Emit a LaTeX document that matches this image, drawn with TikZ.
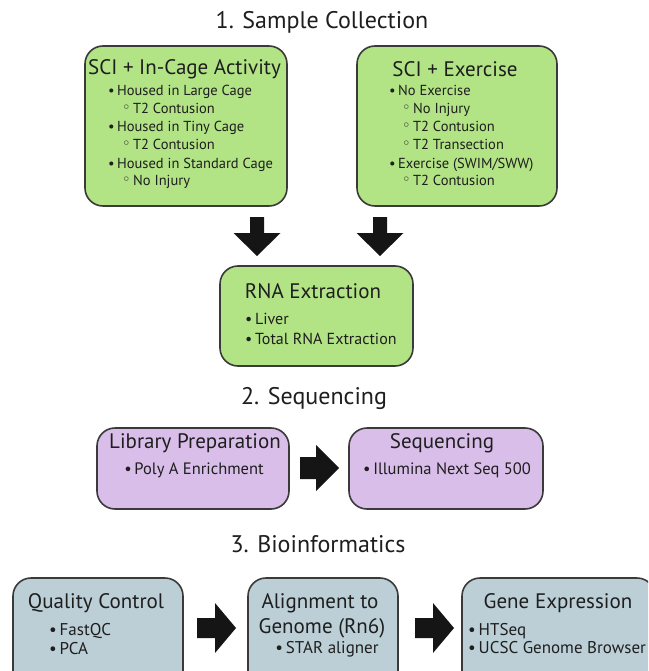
\documentclass[tikz,border=0pt]{standalone}
\usepackage{fontspec}
\setmainfont{PT Sans}
\newfontfamily\symfont{DejaVu Sans}
\definecolor{gfill}{HTML}{B2E384}
\definecolor{pfill}{HTML}{D9BEEA}
\definecolor{bfill}{HTML}{BCCFD7}
\definecolor{bline}{HTML}{3A3A3A}
\definecolor{arr}{HTML}{151515}
\definecolor{txt}{HTML}{1E1E1E}
\newcommand{\sbul}{{\symfont\raisebox{1pt}{◦}}\,}
\newcommand{\mbul}{•\,}
\newcommand{\dnarr}[1]{\fill[arr] (#1-7,217) -- (#1+7,217) -- (#1+7,233) -- (#1+23.5,233) -- (#1,256) -- (#1-23.5,233) -- (#1-7,233) -- cycle;}
\begin{document}
\begin{tikzpicture}[x=1pt,y=-1pt,
  box/.style={draw=bline,line width=1.6pt,rounded corners=18pt,inner sep=0pt},
  sectitle/.style={font=\fontsize{24}{28}\selectfont,text=txt,inner sep=0pt},
  boxtitle/.style={font=\fontsize{21}{24}\selectfont,text=txt,inner sep=0pt},
  item/.style={font=\fontsize{14.5}{17}\selectfont,text=txt,inner sep=0pt,anchor=mid west},
  rnaitem/.style={font=\fontsize{16}{19}\selectfont,text=txt,inner sep=0pt,anchor=mid west},
  seqitem/.style={font=\fontsize{16.5}{19}\selectfont,text=txt,inner sep=0pt,anchor=mid},
  bioitem/.style={font=\fontsize{17}{20}\selectfont,text=txt,inner sep=0pt,anchor=mid west},
  bioitemc/.style={font=\fontsize{17}{20}\selectfont,text=txt,inner sep=0pt,anchor=mid}]
\clip (0,0) rectangle (648,671);
\fill[white] (0,0) rectangle (648,671);
% section titles
\node[sectitle] (t1) at (322,22) {1. Sample Collection};
\node[sectitle] (t2) at (314,398) {2. Sequencing};
\node[sectitle] (t3) at (318,544) {3. Bioinformatics};
% boxes
\node[box,fill=gfill,minimum width=202pt,minimum height=160pt] (b1) at (186,126) {};
\node[box,fill=gfill,minimum width=200pt,minimum height=160pt] (b2) at (457,126) {};
\node[box,fill=gfill,minimum width=193pt,minimum height=100pt] (rna) at (316.5,316) {};
\node[box,fill=pfill,minimum width=192pt,minimum height=81pt] (lib) at (193,468.5) {};
\node[box,fill=pfill,minimum width=194pt,minimum height=81pt] (seq) at (446,468.5) {};
\node[box,fill=bfill,minimum width=170pt,minimum height=112pt] (qc) at (98,634) {};
\node[box,fill=bfill,minimum width=150pt,minimum height=112pt] (aln) at (323,634) {};
\node[box,fill=bfill,minimum width=193pt,minimum height=112pt] (gene) at (558.5,634) {};
% box 1
\node[boxtitle] (b1t) at (184.5,69) {SCI + In-Cage Activity};
\node[item] (b1a) at (108,93) {\mbul Housed in Large Cage};
\node[item] (b1b) at (122,111) {\sbul T2 Contusion};
\node[item] (b1c) at (108,129) {\mbul Housed in Tiny Cage};
\node[item] (b1d) at (122,147) {\sbul T2 Contusion};
\node[item] (b1e) at (108,166) {\mbul Housed in Standard Cage};
\node[item] (b1f) at (122,183) {\sbul No Injury};
% box 2
\node[boxtitle] (b2t) at (455,69) {SCI + Exercise};
\node[item] (b2a) at (389,93) {\mbul No Exercise};
\node[item] (b2b) at (402,111) {\sbul No Injury};
\node[item] (b2c) at (402,129) {\sbul T2 Contusion};
\node[item] (b2d) at (402,147) {\sbul T2 Transection};
\node[item] (b2e) at (389,166) {\mbul Exercise (SWIM/SWW)};
\node[item] (b2f) at (402,183) {\sbul T2 Contusion};
% RNA
\node[boxtitle] (rnat) at (313,291) {RNA Extraction};
\node[rnaitem] (rnaa) at (245,322) {\mbul Liver};
\node[rnaitem] (rnab) at (245,342) {\mbul Total RNA Extraction};
% seq boxes
\node[boxtitle] (libt) at (195,443) {Library Preparation};
\node[seqitem] (liba) at (194,472) {\mbul Poly A Enrichment};
\node[boxtitle] (seqt) at (442,443) {Sequencing};
\node[seqitem] (seqa) at (447,472) {\mbul Illumina Next Seq 500};
% bioinformatics
\node[boxtitle] (qct) at (96,603) {Quality Control};
\node[bioitem] (qca) at (49,633) {\mbul FastQC};
\node[bioitem] (qcb) at (49,652) {\mbul PCA};
\node[boxtitle] (alnt) at (320,603) {Alignment to};
\node[boxtitle] (alnt2) at (322,628) {Genome (Rn6)};
\node[bioitemc] (alna) at (327,651) {\mbul STAR aligner};
\node[boxtitle] (genet) at (558,603) {Gene Expression};
\node[bioitem] (genea) at (468,633) {\mbul HTSeq};
\node[bioitem] (geneb) at (468,651) {\mbul UCSC Genome Browser};
% arrows
\dnarr{257}
\dnarr{380}
\fill[arr] (300,457) -- (316,457) -- (316,445) -- (339,468) -- (316,491) -- (316,479) -- (300,479) -- cycle;
\fill[arr] (197,618) -- (215,618) -- (215,603) -- (236,628) -- (215,653) -- (215,638) -- (197,638) -- cycle;
\fill[arr] (415,618) -- (433,618) -- (433,603) -- (454,628) -- (433,653) -- (433,638) -- (415,638) -- cycle;
\end{tikzpicture}
\end{document}
